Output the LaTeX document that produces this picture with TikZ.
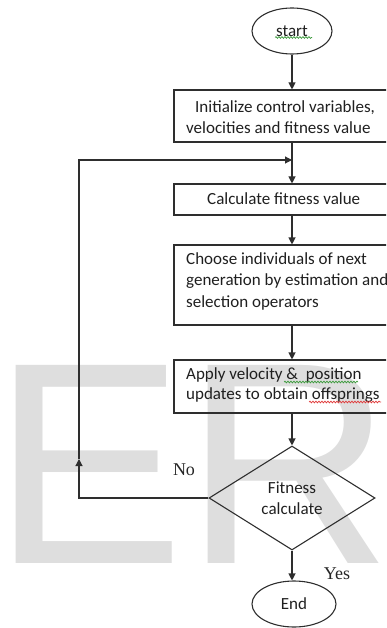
\documentclass[tikz,border=0pt]{standalone}
\usepackage{fontspec}
\setmainfont{Carlito}
\newfontfamily\labelfont{Liberation Serif}
\newfontfamily\wmfont{Liberation Sans}
\usetikzlibrary{shapes.geometric,arrows.meta,decorations.pathmorphing}
\definecolor{linec}{HTML}{2E2E2E}
\definecolor{wm}{HTML}{DEDEDE}
\definecolor{spellg}{HTML}{3C9A3C}
\definecolor{spellr}{HTML}{E03A3A}
\tikzset{
  boxshape/.style={draw=linec, line width=1.1pt, rectangle, minimum width=236pt, inner sep=0pt},
  txt/.style={anchor=west, align=left, inner sep=0pt, text=black!88, font=\fontsize{17}{21.5}\selectfont},
  ellshape/.style={draw=linec, line width=1.1pt, ellipse, inner sep=0pt, font=\fontsize{17}{21}\selectfont, text=black!88},
  decshape/.style={draw=linec, line width=1.1pt, diamond, inner sep=0pt, shape aspect=1.6, align=center, font=\fontsize{17}{21}\selectfont, text=black!88},
  conn/.style={draw=linec, line width=1.1pt},
  arr/.style={conn, -{Triangle[length=7pt,width=7pt]}},
  lbl/.style={inner sep=0pt, font=\labelfont\fontsize{18}{20}\selectfont, text=black!85},
  squig/.style={line width=0.7pt, decorate, decoration={snake, amplitude=0.9pt, segment length=3pt}}
}
\begin{document}
\begin{tikzpicture}[x=1pt,y=-1pt]
\useasboundingbox (0,0) rectangle (386,628);
\clip (0,0) rectangle (386,628);
% watermark
\node[anchor=base west, inner sep=0pt, text=wm, font=\wmfont\fontsize{288}{290}\selectfont] (wmark) at (-8,563) {ER};
% nodes
\node[ellshape, minimum width=80pt, minimum height=46pt] (start) at (292,31) {start};
\node[boxshape, minimum height=52pt] (box1) at (292,116) {};
\node[boxshape, minimum height=31pt] (box2) at (292,199.5) {};
\node[boxshape, minimum height=80pt] (box3) at (292,285) {};
\node[boxshape, minimum height=53pt] (box4) at (292,386.5) {};
\node[decshape, minimum width=166pt, minimum height=104pt] (dec) at (292,498) {Fitness\\calculate};
\node[ellshape, minimum width=84pt, minimum height=46pt] (end) at (294,604) {End};
% texts
\node[txt] (t1) at (186,117) {\hspace*{9pt}Initialize control variables,\\velocities and fitness value};
\node[txt] (t2) at (207,199) {Calculate fitness value};
\node[txt] (t3) at (186,281) {Choose individuals of next\\generation by estimation and\\selection operators};
\node[txt, font=\fontsize{17}{20.5}\selectfont] (t4) at (186,385) {Apply velocity \&\ \ position\\updates to obtain offsprings};
\node[lbl] (no) at (184,470) {No};
\node[lbl] (yes) at (337,574) {Yes};
% spell-check underlines
\draw[squig, spellg] (275,37.5) -- (312,37.5);
\draw[squig, spellg] (284,382) -- (358,382);
\draw[squig, spellr] (309,402) -- (381,402);
% connectors
\coordinate (join) at (292,160);
\coordinate (fbup) at (79,459);
\draw[arr] (start.south) -- (box1.north);
\draw[arr] (box1.south) -- (box2.north);
\draw[arr] (box2.south) -- (box3.north);
\draw[arr] (box3.south) -- (box4.north);
\draw[arr] (box4.south) -- (dec.north);
\draw[arr] (dec.south) -- (dec.south |- end.north);
\draw[arr] (dec.west) -| (fbup);
\draw[arr] (fbup) |- (join);
\end{tikzpicture}
\end{document}
